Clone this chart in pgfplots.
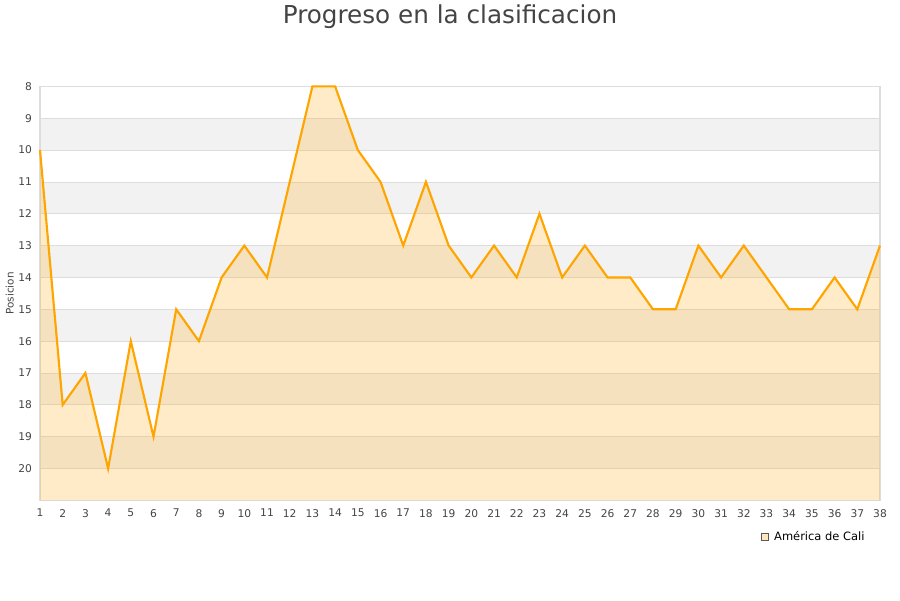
\documentclass[border=0pt]{standalone}
\usepackage{fontspec}
\setmainfont{DejaVu Sans}
\usepackage{pgfplots}
\pgfplotsset{compat=1.18}
\definecolor{linecol}{HTML}{FFA500}
\definecolor{fillcol}{RGB}{255,175,35}
\definecolor{bandcol}{HTML}{F2F2F2}
\definecolor{gridcol}{HTML}{DDDDDD}
\definecolor{txtcol}{HTML}{444444}
\begin{document}
\begin{tikzpicture}
\path (0pt,0pt) rectangle (675pt,450pt);
\node[text=txtcol,font=\fontsize{18.5}{22}\selectfont] at (337.5pt,438pt) {Progreso en la clasificacion};
\begin{axis}[
  at={(30pt,75pt)}, anchor=south west,
  scale only axis, width=630pt, height=310.5pt,
  set layers,
  xmin=1, xmax=38, ymin=8, ymax=21,
  y dir=reverse,
  xtick={1,...,38}, ytick={8,...,20},
  major tick length=0pt,
  tick label style={font=\fontsize{8}{9}\selectfont, text=txtcol},
  xticklabel style={yshift=-3pt},
  yticklabel style={xshift=-2.5pt},
  /pgf/number format/assume math mode=true,
  ymajorgrids, grid style={gridcol, line width=0.6pt},
  extra y ticks={21}, extra y tick labels={},
  extra y tick style={grid=major},
  axis line style={gridcol, line width=0.8pt},
  ylabel={Posicion},
  ylabel style={font=\fontsize{7.8}{9}\selectfont, text=txtcol, anchor=center, at={(axis description cs:-0.036,0.5)}},
  legend style={at={(0.993,-0.088)}, anchor=east, draw=none, fill=none,
    font=\fontsize{8.6}{10}\selectfont, legend cell align=left, nodes={inner xsep=4pt}},
  clip=false,
]
\begin{pgfonlayer}{axis background}
\fill[bandcol] (axis cs:1,9) rectangle (axis cs:38,10);
\fill[bandcol] (axis cs:1,11) rectangle (axis cs:38,12);
\fill[bandcol] (axis cs:1,13) rectangle (axis cs:38,14);
\fill[bandcol] (axis cs:1,15) rectangle (axis cs:38,16);
\fill[bandcol] (axis cs:1,17) rectangle (axis cs:38,18);
\fill[bandcol] (axis cs:1,19) rectangle (axis cs:38,20);
\end{pgfonlayer}
\addplot[draw=none, fill=fillcol, fill opacity=0.25, forget plot] coordinates {
(1,10) (2,18) (3,17) (4,20) (5,16) (6,19) (7,15) (8,16) (9,14) (10,13)
(11,14) (12,11) (13,8) (14,8) (15,10) (16,11) (17,13) (18,11) (19,13) (20,14)
(21,13) (22,14) (23,12) (24,14) (25,13) (26,14) (27,14) (28,15) (29,15) (30,13)
(31,14) (32,13) (33,14) (34,15) (35,15) (36,14) (37,15) (38,13) (38,21) (1,21)
} -- cycle;
\addplot[linecol, line width=1.6pt, mark=none, forget plot] coordinates {
(1,10) (2,18) (3,17) (4,20) (5,16) (6,19) (7,15) (8,16) (9,14) (10,13)
(11,14) (12,11) (13,8) (14,8) (15,10) (16,11) (17,13) (18,11) (19,13) (20,14)
(21,13) (22,14) (23,12) (24,14) (25,13) (26,14) (27,14) (28,15) (29,15) (30,13)
(31,14) (32,13) (33,14) (34,15) (35,15) (36,14) (37,15) (38,13)
};
\addlegendimage{legend image code/.code={\draw[gray!70!black, fill=fillcol!30, line width=0.4pt] (0pt,-2.6pt) rectangle (5.2pt,2.6pt);}}
\addlegendentry{América de Cali}
\end{axis}
\end{tikzpicture}
\end{document}
